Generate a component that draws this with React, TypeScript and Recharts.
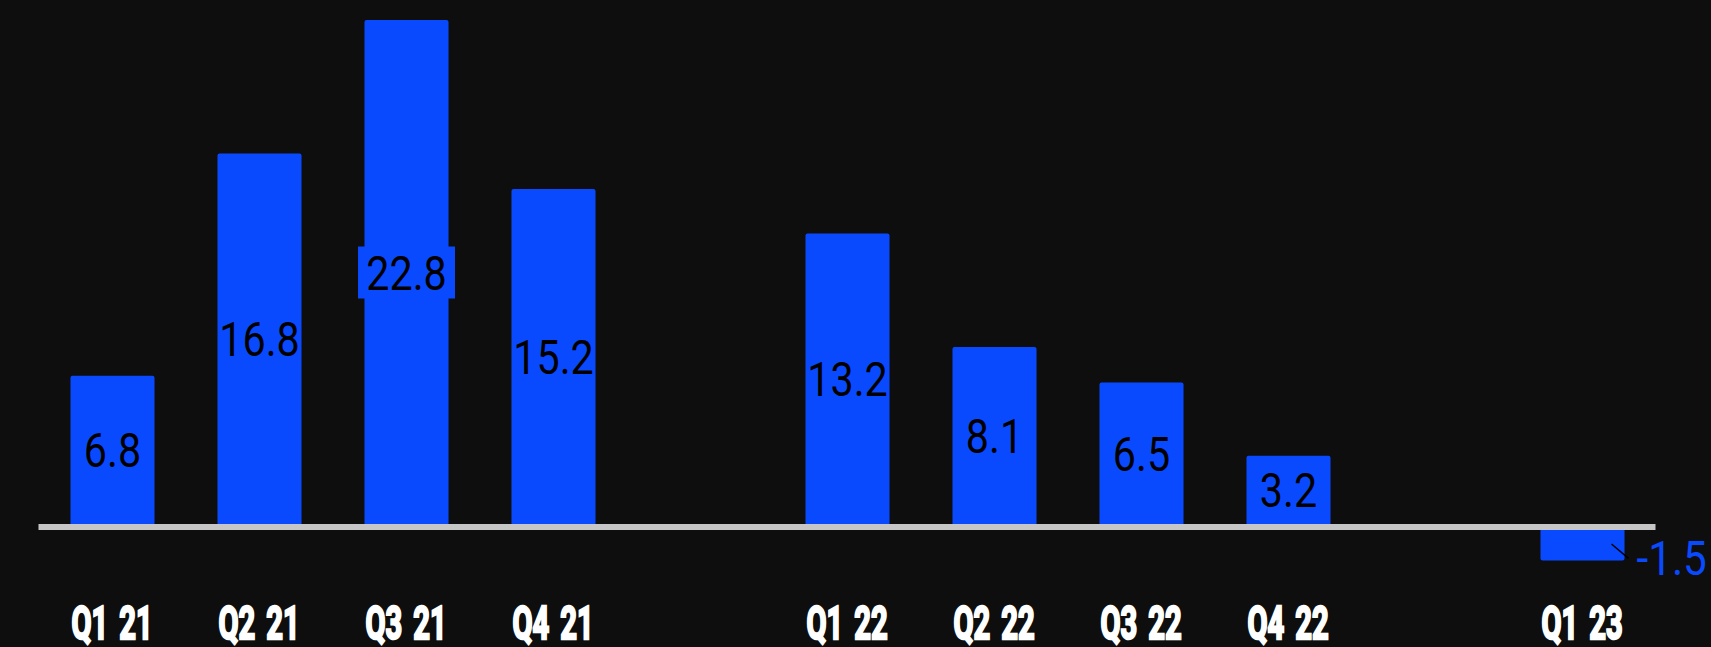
import React from "react";
import { BarChart, Bar, XAxis, YAxis, ReferenceLine, LabelList } from "recharts";

const categories = ["Q1 21", "Q2 21", "Q3 21", "Q4 21", "", "Q1 22", "Q2 22", "Q3 22", "Q4 22", "", "Q1 23"];
const values: (number | null)[] = [6.8, 16.8, 22.8, 15.2, null, 13.2, 8.1, 6.5, 3.2, null, -1.5];
const yDomain = [-4, 23];

const data = categories.map((c, i) => ({ cat: c, value: values[i] }));
const maxValue = Math.max(...(values.filter((v) => v != null) as number[]));

const BLUE = "#0a4aff";
const BG = "#0e0e0e";
const FS = 48;

const Tick = (props: any) => {
  const { x, y, payload } = props;
  if (!payload || !payload.value) return null;
  return (
    <text
      transform={`translate(${x},${y + 23}) scale(0.62,1)`}
      textAnchor="middle"
      fill="#ffffff"
      stroke="#ffffff"
      strokeWidth={2.5}
      fontFamily="Roboto, 'DejaVu Sans', sans-serif"
      fontWeight={700}
      fontSize={47}
      wordSpacing={6}
    >
      {payload.value}
    </text>
  );
};

const ValueLabel = (props: any) => {
  const { x, y, width, height, value } = props;
  if (value == null) return null;
  const top = Math.min(y, y + height);
  const bottom = Math.max(y, y + height);
  const cx = x + width / 2;
  const right = x + width;
  if (value < 0) {
    const cy = bottom - 2;
    return (
      <g>
        <line x1={right - 13} y1={top + 17} x2={right + 4} y2={bottom - 2} stroke="#000" strokeWidth={1.5} />
        <text
          transform={`translate(${right + 12},${cy + 0.355 * FS}) scale(0.88,1)`}
          textAnchor="start"
          fill={BLUE}
          fontFamily="Roboto, 'DejaVu Sans', sans-serif"
          fontSize={FS}
        >
          {value}
        </text>
      </g>
    );
  }
  const cy = (top + bottom) / 2 - 1;
  return (
    <g>
      {value === maxValue && <rect x={cx - 48.5} y={cy - 26} width={97} height={52} fill={BLUE} />}
      <text
        transform={`translate(${cx},${cy + 0.355 * FS}) scale(0.86,1)`}
        textAnchor="middle"
        fill="#000"
        fontFamily="Roboto, 'DejaVu Sans', sans-serif"
        fontSize={FS}
      >
        {value}
      </text>
    </g>
  );
};

export default function App() {
  return (
    <div style={{ position: "fixed", left: 0, top: 0, width: 1711, height: 647, background: BG }}>
      <BarChart
        width={1711}
        height={647}
        data={data}
        margin={{ top: 15.5, right: 55.5, left: 38.5, bottom: 0 }}
      >
        <XAxis
          dataKey="cat"
          height={31}
          axisLine={false}
          tickLine={false}
          tickSize={0}
          tickMargin={0}
          interval={0}
          tick={<Tick />}
        />
        <YAxis hide domain={yDomain} allowDataOverflow />
        <Bar dataKey="value" fill={BLUE} barSize={84} radius={2} isAnimationActive={false}>
          <LabelList dataKey="value" content={<ValueLabel />} />
        </Bar>
        <ReferenceLine y={0} stroke="#c6c6c6" strokeWidth={6} ifOverflow="extendDomain" />
      </BarChart>
    </div>
  );
}
